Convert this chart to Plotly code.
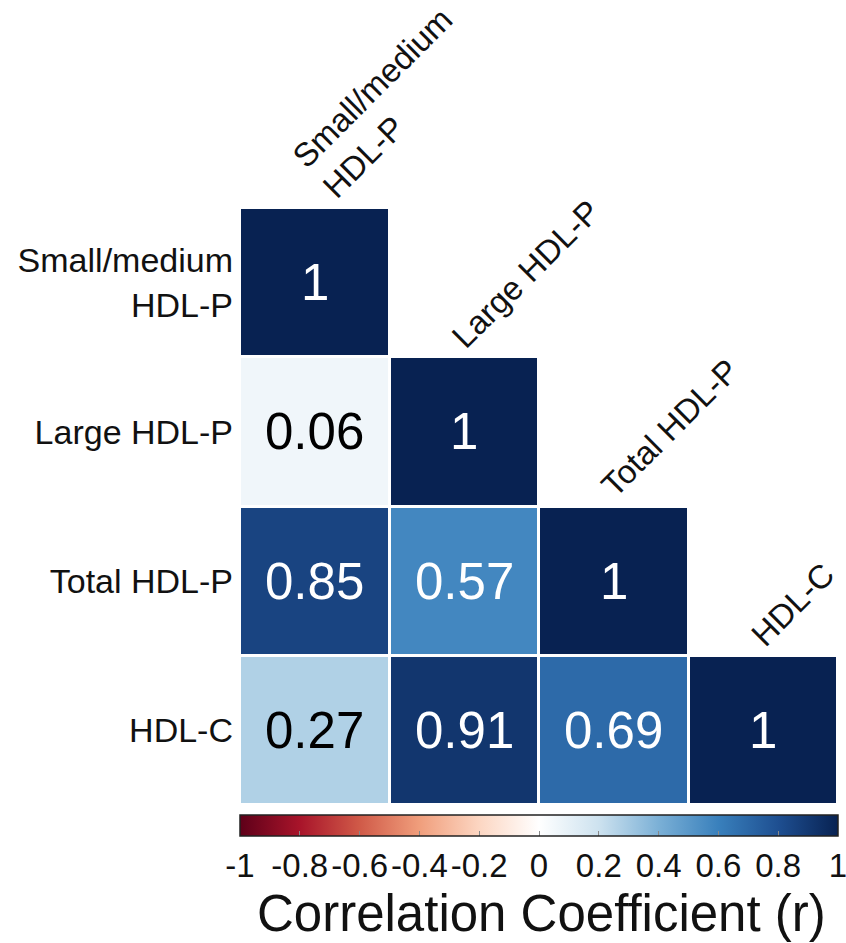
import plotly.graph_objects as go

# HDL measures and their pairwise correlations (lower triangle incl. diagonal)
labels = ["Small/medium HDL-P", "Large HDL-P", "Total HDL-P", "HDL-C"]
row_small_medium = [1.00, None, None, None]
row_large = [0.06, 1.00, None, None]
row_total = [0.85, 0.57, 1.00, None]
row_hdlc = [0.27, 0.91, 0.69, 1.00]
colorbar_ticks = [-1, -0.8, -0.6, -0.4, -0.2, 0, 0.2, 0.4, 0.6, 0.8, 1]

z = [row_small_medium, row_large, row_total, row_hdlc]
n = len(labels)
idx = list(range(n))
display_labels = [lab.replace("Small/medium ", "Small/medium<br>") for lab in labels]

FONT = "Liberation Sans, Arial, Helvetica, sans-serif"

# diverging red/white/blue palette (deep navy at +1, dark red at -1)
rdbu = [
    [0.0, "#5E0019"], [0.1, "#A8142A"], [0.2, "#D05A48"], [0.3, "#F09E7C"],
    [0.4, "#FCD6C2"], [0.5, "#FFFFFF"], [0.6, "#CDE2EF"], [0.7, "#7BB0D6"],
    [0.8, "#3980BC"], [0.9, "#1E4F91"], [1.0, "#082252"],
]

fig = go.Figure()
fig.add_trace(go.Heatmap(
    z=z, x=idx, y=idx,
    zmin=-1, zmax=1,
    colorscale=rdbu,
    xgap=3, ygap=3,
    hoverongaps=False,
    colorbar=dict(
        orientation="h",
        thickness=21,
        len=1.0, lenmode="fraction",
        x=0.5, xanchor="center",
        y=-0.017, yanchor="top",
        xpad=0, ypad=0,
        tickvals=colorbar_ticks,
        ticktext=[f"{t:g}" for t in colorbar_ticks],
        tickangle=0,
        tickfont=dict(family=FONT, size=33, color="#111"),
        ticklabeloverflow="allow",
        ticks="inside", ticklen=5, tickcolor="#888",
        outlinewidth=1.5, outlinecolor="#222",
    ),
))

annotations = []
# value labels inside the cells
for i in range(n):
    for j in range(n):
        v = z[i][j]
        if v is None:
            continue
        annotations.append(dict(
            x=j, y=i, xref="x", yref="y",
            text=f"{v:g}", showarrow=False,
            font=dict(family=FONT, size=51, color="white" if v > 0.4 else "black"),
        ))

# rotated column labels sitting above each diagonal cell
for j in range(n):
    annotations.append(dict(
        x=j - 0.15, y=j - 0.5, xref="x", yref="y",
        xanchor="left", yanchor="bottom",
        xshift=-10 if "<br>" in display_labels[j] else 0,
        text=display_labels[j], showarrow=False, textangle=-45, align="left",
        font=dict(family=FONT, size=33, color="#111"),
    ))

# colour bar caption
annotations.append(dict(
    x=0.505, y=-0.182, xref="paper", yref="paper",
    xanchor="center", yanchor="middle",
    text="Correlation Coefficient (r)", showarrow=False,
    font=dict(family=FONT, size=51, color="#111"),
))

fig.update_layout(
    width=846, height=943,
    margin=dict(l=240, r=8, t=208, b=138),
    paper_bgcolor="white", plot_bgcolor="white",
    annotations=annotations,
    xaxis=dict(range=[-0.5, n - 0.5], showticklabels=False, showgrid=False,
               zeroline=False, showline=False, ticks=""),
    yaxis=dict(range=[n - 0.5, -0.5], tickvals=idx, ticktext=display_labels,
               tickfont=dict(family=FONT, size=34, color="#111"),
               showgrid=False, zeroline=False, showline=False, ticks="",
               ticklabelstandoff=6),
)

fig.write_html("out.html")
